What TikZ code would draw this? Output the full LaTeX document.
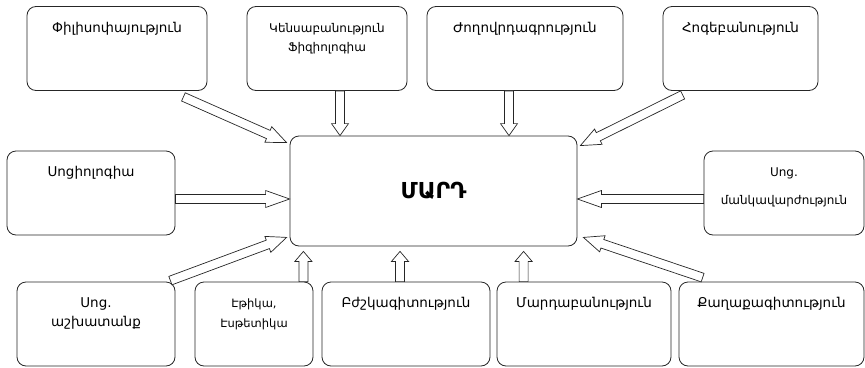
\documentclass[tikz,border=0pt]{standalone}
\usepackage{fontspec}
\setmainfont{DejaVu Sans}
\usetikzlibrary{calc}

\tikzset{
  box/.style={draw=black!85, line width=0.8pt, rounded corners=9pt, minimum height=84pt},
  ttl/.style={anchor=base, yshift=-26pt, align=center, font=\fontsize{13.5}{19}\selectfont},
  harrow/.style={draw=black!85, fill=white, line width=0.7pt, line join=miter}
}

\newcommand{\hollowarrow}[3][14]{%
  \coordinate (hc) at ($(#3)!#1pt!(#2)$);
  \path[harrow] ($(#2)!4.5pt!90:(#3)$) -- ($(hc)!4.5pt!-90:(#2)$) -- ($(hc)!8.5pt!-90:(#2)$) -- (#3)
    -- ($(hc)!8.5pt!90:(#2)$) -- ($(hc)!4.5pt!90:(#2)$) -- ($(#2)!4.5pt!-90:(#3)$) -- cycle;
}

\begin{document}
\begin{tikzpicture}[x=1pt, y=-1pt]
  \useasboundingbox (0,0) rectangle (865,367);

  \node[box, minimum width=287pt, minimum height=110pt, font=\bfseries\fontsize{22}{24}\selectfont] (mard) at (433.5,191) {ՄԱՐԴ};

  \node[box, minimum width=180pt, label={[ttl]north:Փիլիսոփայություն}] (filo) at (117,48.5) {};
  \node[box, minimum width=160pt, label={[ttl, yshift=-19pt, font=\fontsize{12}{19}\selectfont]north:{Կենսաբանություն\\Ֆիզիոլոգիա}}] (kens) at (327,48.5) {};
  \node[box, minimum width=196pt, label={[ttl]north:Ժողովրդագրություն}] (zhog) at (525,48.5) {};
  \node[box, minimum width=155pt, label={[ttl]north:Հոգեբանություն}] (hog) at (740.5,48.5) {};

  \node[box, minimum width=168pt, label={[ttl]north:Սոցիոլոգիա}] (soc) at (91,193) {};
  \node[box, minimum width=160pt, label={[ttl, yshift=-28pt, font=\fontsize{12}{19}\selectfont]north:{Սոց.\\[9pt]մանկավարժություն}}] (mank) at (784,193) {};

  \node[box, minimum width=158pt, label={[ttl, yshift=-19pt]north:{Սոց.\\աշխատանք}}] (ashx) at (96,324) {};
  \node[box, minimum width=118pt, label={[ttl, yshift=-20pt, font=\fontsize{11.5}{20}\selectfont]north:{Էթիկա,\\Էսթետիկա}}] (eth) at (254,324) {};
  \node[box, minimum width=168pt, label={[ttl]north:Բժշկագիտություն}] (bzh) at (406,324) {};
  \node[box, minimum width=174pt, label={[ttl]north:Մարդաբանություն}] (mardab) at (584,324) {};
  \node[box, minimum width=185pt, label={[ttl]north:Քաղաքագիտություն}] (qagh) at (771.5,324) {};

  \coordinate (a1) at ([shift={(-24,6)}]filo.south east);
  \coordinate (b1) at ([shift={(-3,7)}]mard.north west);
  \coordinate (a2) at ([xshift=13pt]kens.south);
  \coordinate (b2) at (a2 |- mard.north);
  \coordinate (a3) at ([xshift=-16pt]zhog.south);
  \coordinate (b3) at (a3 |- mard.north);
  \coordinate (a4) at ([shift={(20,4)}]hog.south west);
  \coordinate (b4) at ([shift={(3,10)}]mard.north east);
  \coordinate (a5) at ([shift={(0,6)}]soc.east);
  \coordinate (b5) at (a5 -| mard.west);
  \coordinate (a6) at ([shift={(0,6)}]mank.west);
  \coordinate (b6) at (a6 -| mard.east);
  \coordinate (a7) at ([shift={(-5,-1)}]ashx.north east);
  \coordinate (b7) at ([shift={(-3,-9)}]mard.south west);
  \coordinate (a8) at ([xshift=-10pt]eth.north east);
  \coordinate (b8) at ($(a8 |- mard.south)+(0,5)$);
  \coordinate (a9) at ([xshift=-6pt]bzh.north);
  \coordinate (b9) at ($(a9 |- mard.south)+(0,5)$);
  \coordinate (a10) at ([xshift=27pt]mardab.north west);
  \coordinate (b10) at ($(a10 |- mard.south)+(0,5)$);
  \coordinate (a11) at ([shift={(24,-4)}]qagh.north west);
  \coordinate (b11) at ([shift={(6,-9)}]mard.south east);

  \hollowarrow[20]{a1}{b1}
  \hollowarrow[12]{a2}{b2}
  \hollowarrow[12]{a3}{b3}
  \hollowarrow[20]{a4}{b4}
  \hollowarrow[24]{a5}{b5}
  \hollowarrow[24]{a6}{b6}
  \hollowarrow[20]{a7}{b7}
  \hollowarrow[10]{a8}{b8}
  \hollowarrow[10]{a9}{b9}
  \hollowarrow[10]{a10}{b10}
  \hollowarrow[20]{a11}{b11}
\end{tikzpicture}
\end{document}
